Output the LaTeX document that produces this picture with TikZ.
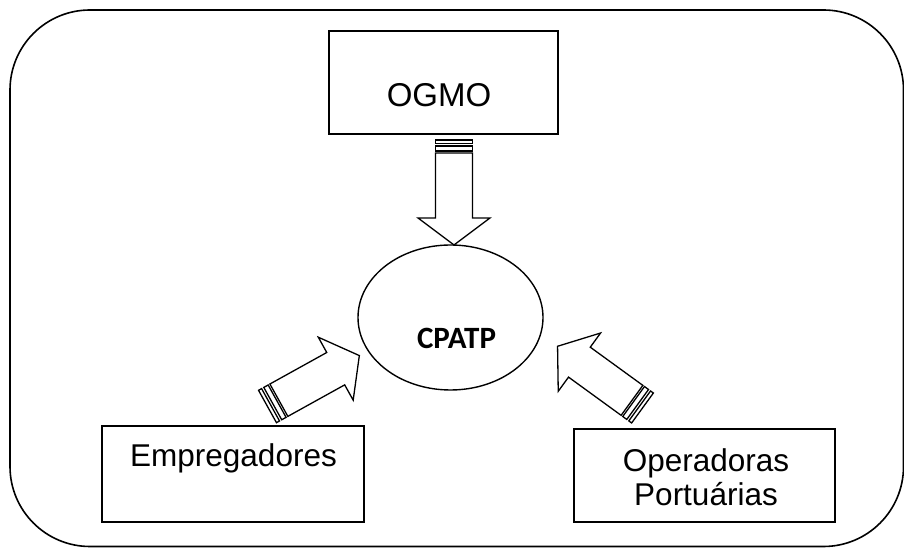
\documentclass[tikz,border=0pt]{standalone}
\usepackage{fontspec}
\setmainfont{Liberation Sans}
\newfontfamily\calibri{Carlito}
\usetikzlibrary{shapes.geometric}

\tikzset{
	caixa/.style={draw, line width=1.6pt, inner sep=0pt},
	texto/.style={font=\fontsize{31.5}{34}\selectfont, align=center, inner sep=0pt},
	seta/.pic={
		\draw[line width=1.3pt, fill=white] (0,-18.5) rectangle (3.5,18.5);
		\draw[line width=1.3pt, fill=white] (6,-18.5) rectangle (11,18.5);
		\draw[line width=1.3pt, fill=white, line join=miter] (13,-18.5) -- (78,-18.5) -- (78,-36) -- (105,0) -- (78,36) -- (78,18.5) -- (13,18.5) -- cycle;
	}
}

\begin{document}
\begin{tikzpicture}[x=1pt, y=1pt]
	\useasboundingbox (0,0) rectangle (904,548);
	\draw[line width=1.6pt, rounded corners=80pt] (10,1.5) rectangle (903.5,538);

	\node[caixa, minimum width=229pt, minimum height=103pt] (ogmo) at (443.5,465.5) {};
	\node[caixa, minimum width=262pt, minimum height=96pt] (empregadores) at (233,74) {};
	\node[caixa, minimum width=261pt, minimum height=93pt] (operadoras) at (704.5,72.5) {};
	\node[draw, ellipse, line width=1.4pt, minimum width=185pt, minimum height=145pt] (cpatp) at (450.5,230.5) {};

	\node[texto, font=\fontsize{33}{36}\selectfont] (ogmotexto) at (439,452.5) {OGMO};
	\node[texto] (empregadorestexto) at (233.5,90) {Empregadores};
	\node[texto] (operadorastexto) at (706,71) {Operadoras\\Portuárias};
	\node[inner sep=0pt, font=\calibri\bfseries\fontsize{31}{33}\selectfont] (cpatptexto) at (456.5,210) {CPATP};

	\pic[rotate=-90] at (454,408) {seta};
	\pic[rotate=29] at (267.5,141.5) {seta};
	\pic[rotate=144] at (642.5,140) {seta};
\end{tikzpicture}
\end{document}
